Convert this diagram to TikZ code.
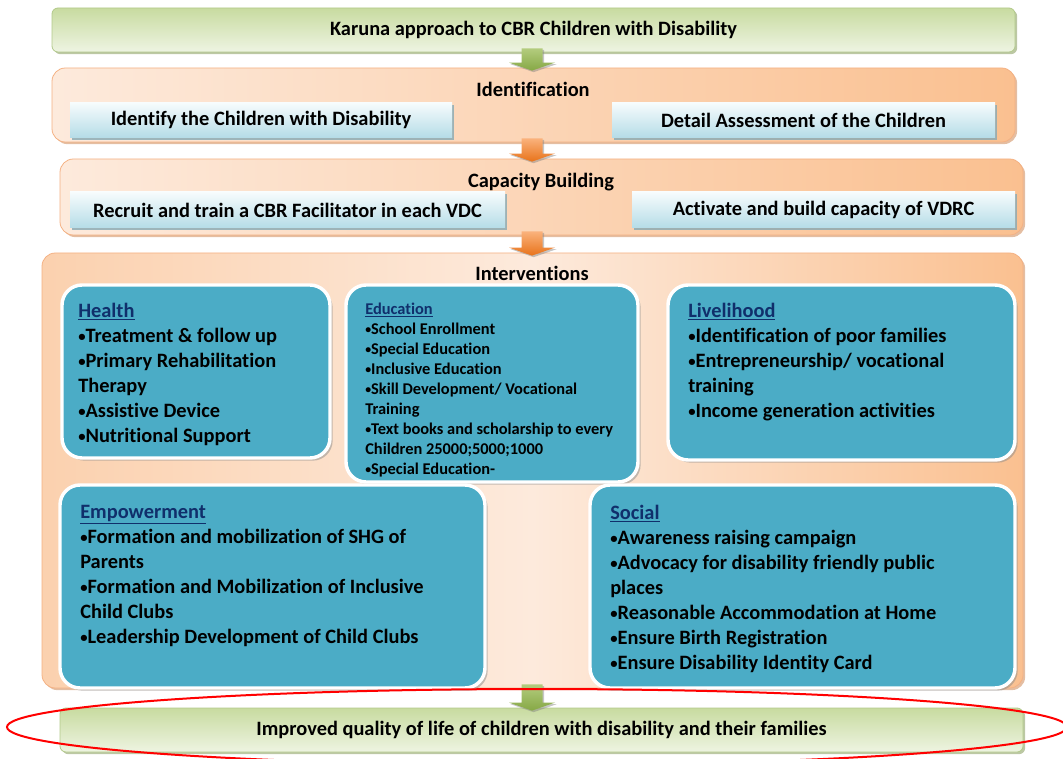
\documentclass[tikz,border=0pt]{standalone}
\usepackage{fontspec}
\setmainfont{Carlito}[Ligatures=CommonOff]
\usetikzlibrary{shadows,calc}

\definecolor{orgL}{HTML}{FDEADC}
\definecolor{orgD}{HTML}{FAC090}
\definecolor{orgE}{HTML}{F4B183}
\definecolor{orgS}{HTML}{D9A27A}
\definecolor{grnL}{HTML}{EEF4E2}
\definecolor{grnD}{HTML}{C8DBA0}
\definecolor{grnE}{HTML}{B2C98A}
\definecolor{grnS}{HTML}{9FB07E}
\definecolor{tealF}{HTML}{4BACC6}
\definecolor{blueL}{HTML}{F7FCFD}
\definecolor{blueD}{HTML}{B5DCE7}
\definecolor{blueS}{HTML}{86A9B4}
\definecolor{navyT}{HTML}{102F6B}
\definecolor{arrGL}{HTML}{B3CC7E}
\definecolor{arrGD}{HTML}{86A845}
\definecolor{arrOL}{HTML}{FAB27C}
\definecolor{arrOD}{HTML}{E8731A}

\tikzset{
  bigfont/.style={font=\fontsize{15.3}{18.75}\selectfont\bfseries},
  smallfont/.style={font=\fontsize{12.3}{15}\selectfont\bfseries},
  greenbar/.style={draw=grnE, line width=0.6pt, top color=grnD, bottom color=grnL,
    rounded corners=4.5pt, bigfont,
    drop shadow={shadow xshift=1.6pt, shadow yshift=-1.6pt, fill=grnS, opacity=0.7}},
  orangebox/.style={draw=orgE, line width=0.6pt, left color=orgL, right color=orgD,
    rounded corners=10pt,
    drop shadow={shadow xshift=1.6pt, shadow yshift=-1.6pt, fill=orgS, opacity=0.7}},
  subbox/.style={top color=blueL, bottom color=blueD, inner sep=0pt, bigfont,
    drop shadow={shadow xshift=1.6pt, shadow yshift=-1.6pt, fill=blueS, opacity=0.8}},
  tealbox/.style={fill=tealF, draw=white, line width=2.6pt, rounded corners=15pt,
    drop shadow={shadow xshift=2pt, shadow yshift=-2pt, fill=black!45, opacity=0.5}},
  titletext/.style={bigfont, inner sep=0pt},
  itemtext/.style={bigfont, align=left, inner sep=0pt, anchor=north west},
  smalltext/.style={smallfont, align=left, inner sep=0pt, anchor=north west},
}

% underlined heading inside a teal box
\newcommand\boxhead[1]{{\color{navyT}\underline{#1}}}
% small list bullet
\newcommand\bul{\raisebox{0.06em}{\scalebox{0.72}{•}}}

% downward block arrow between two stacked boxes, centred on the coordinate ax
\newcommand\blockarrow[4]{%
  \shade[top color=#1, bottom color=#2,
    drop shadow={shadow xshift=1.2pt, shadow yshift=-1.2pt, fill=black!50, opacity=0.45}]
    ($(#3.south -| ax)+(-10.5,-4)$) -- ($(#3.south -| ax)+(10.5,-4)$)
    -- ($(#4.north -| ax)+(10.5,-5)$) -- ($(#4.north -| ax)+(23,-5)$)
    -- ($(#4.north -| ax)+(0,3)$) -- ($(#4.north -| ax)+(-23,-5)$)
    -- ($(#4.north -| ax)+(-10.5,-5)$) -- cycle;}

\begin{document}
\begin{tikzpicture}[x=0.75pt, y=-0.75pt]
  \useasboundingbox (0,0) rectangle (1063,759);
  \clip (0,0) rectangle (1063,759);
  \coordinate (ax) at (532,0);

  % heading bar
  \node[greenbar, minimum width=963*0.75pt, minimum height=44*0.75pt] (top) at (533.5,30)
    {Karuna approach to CBR Children with Disability};

  % identification stage
  \node[orangebox, minimum width=963*0.75pt, minimum height=74*0.75pt] (ident) at (533.5,105) {};
  \node[titletext] (identtitle) at (533,89) {Identification};
  \node[subbox, minimum width=382*0.75pt, minimum height=35*0.75pt] (identify) at (261,120)
    {Identify the Children with Disability};
  \node[subbox, minimum width=383*0.75pt, minimum height=35*0.75pt] (assess) at (803.5,120)
    {Detail Assessment of the Children};

  % capacity building stage
  \node[orangebox, minimum width=963*0.75pt, minimum height=76*0.75pt] (capacity) at (541.5,197) {};
  \node[titletext] (capacitytitle) at (541,182) {Capacity Building};
  \node[subbox, minimum width=435*0.75pt, minimum height=36*0.75pt] (recruit) at (287.5,210)
    {Recruit and train a CBR Facilitator in each VDC};
  \node[subbox, minimum width=383*0.75pt, minimum height=36*0.75pt] (activate) at (823.5,210)
    {Activate and build capacity of VDRC};

  % interventions stage
  \node[orangebox, left color=orgD!60!orgL, right color=orgD, middle color=orgL,
    minimum width=981*0.75pt, minimum height=435*0.75pt] (interv) at (532.5,470.5) {};
  \node[titletext] (intervtitle) at (532,273) {Interventions};

  \node[tealbox, minimum width=268*0.75pt, minimum height=173*0.75pt] (health) at (196,371.5) {};
  \node[tealbox, minimum width=292*0.75pt, minimum height=197*0.75pt] (edu) at (492,383.5) {};
  \node[tealbox, minimum width=347*0.75pt, minimum height=175*0.75pt] (live) at (841.5,372.5) {};
  \node[tealbox, minimum width=425*0.75pt, minimum height=203*0.75pt] (empower) at (272.5,586.5) {};
  \node[tealbox, minimum width=425*0.75pt, minimum height=203*0.75pt] (social) at (802.5,586.5) {};

  \node[itemtext] (healthtxt) at (78,303) {\boxhead{Health}\\
    \bul Treatment \& follow up\\
    \bul Primary Rehabilitation\\
    Therapy\\
    \bul Assistive Device\\
    \bul Nutritional Support};
  \node[smalltext] (edutxt) at (365,303) {\boxhead{Education}\\
    \bul School Enrollment\\
    \bul Special Education\\
    \bul Inclusive Education\\
    \bul Skill Development/ Vocational\\
    Training\\
    \bul Text books and scholarship to every\\
    Children 25000;5000;1000\\
    \bul Special Education-};
  \node[itemtext] (livetxt) at (688,303) {\boxhead{Livelihood}\\
    \bul Identification of poor families\\
    \bul Entrepreneurship/ vocational\\
    training\\
    \bul Income generation activities};
  \node[itemtext] (empowertxt) at (80,505) {\boxhead{Empowerment}\\
    \bul Formation and mobilization of SHG of\\
    Parents\\
    \bul Formation and Mobilization of Inclusive\\
    Child Clubs\\
    \bul Leadership Development of Child Clubs};
  \node[itemtext] (socialtxt) at (610,505) {\boxhead{Social}\\
    \bul Awareness raising campaign\\
    \bul Advocacy for disability friendly public\\
    places\\
    \bul Reasonable Accommodation at Home\\
    \bul Ensure Birth Registration\\
    \bul Ensure Disability Identity Card};

  % outcome bar
  \node[greenbar, minimum width=963*0.75pt, minimum height=44*0.75pt] (outcome) at (541.5,730)
    {Improved quality of life of children with disability and their families};

  % arrows between the stages
  \blockarrow{arrGL}{arrGD}{top}{ident}
  \blockarrow{arrOL}{arrOD}{ident}{capacity}
  \blockarrow{arrOL}{arrOD}{capacity}{interv}
  \blockarrow{arrGL}{arrGD}{interv}{outcome}

  % highlight round the outcome
  \draw[red, line width=1.5pt] (537,727) ellipse [x radius=530, y radius=38];
\end{tikzpicture}
\end{document}
